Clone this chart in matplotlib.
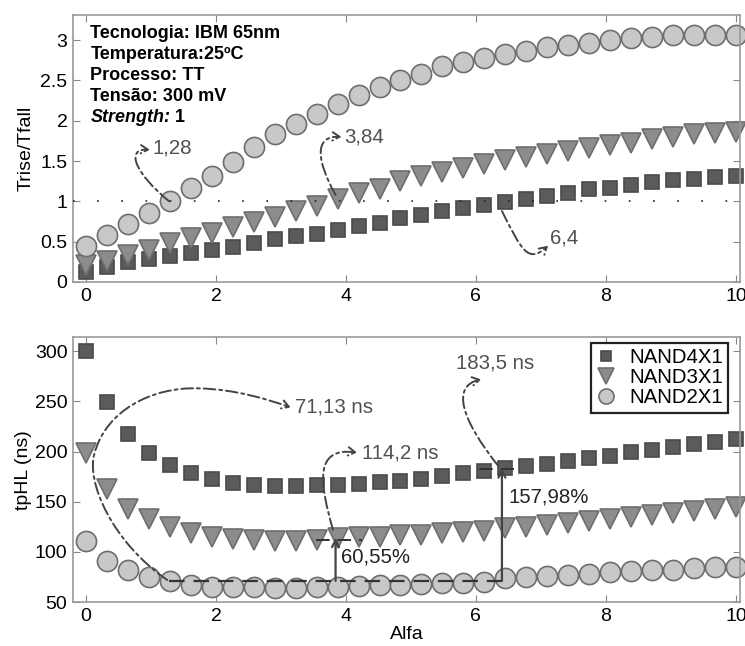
import numpy as np
import matplotlib
matplotlib.use("Agg")
import matplotlib.pyplot as plt
from matplotlib.path import Path
from matplotlib.patches import FancyArrowPatch

plt.rcParams["font.family"] = ["Liberation Sans", "DejaVu Sans"]

# alfa sweep: 32 points from 0 to 10
alfa = np.linspace(0, 10, 32)

# Trise/Tfall
ratio_nand4 = [0.13, 0.19, 0.25, 0.28, 0.32, 0.36, 0.40, 0.44, 0.48, 0.53, 0.57,
               0.60, 0.65, 0.69, 0.73, 0.79, 0.83, 0.88, 0.92, 0.96, 0.99, 1.03,
               1.07, 1.10, 1.15, 1.17, 1.20, 1.24, 1.26, 1.28, 1.30, 1.32]
ratio_nand3 = [0.21, 0.26, 0.34, 0.40, 0.48, 0.55, 0.61, 0.68, 0.74, 0.81, 0.88,
               0.94, 1.03, 1.10, 1.15, 1.25, 1.31, 1.37, 1.41, 1.46, 1.51, 1.55,
               1.59, 1.63, 1.66, 1.70, 1.73, 1.77, 1.80, 1.83, 1.85, 1.86]
ratio_nand2 = [0.45, 0.58, 0.72, 0.86, 1.01, 1.17, 1.32, 1.49, 1.67, 1.83, 1.96,
               2.08, 2.21, 2.32, 2.42, 2.51, 2.58, 2.68, 2.73, 2.78, 2.83, 2.87,
               2.92, 2.94, 2.97, 3.00, 3.03, 3.04, 3.06, 3.06, 3.07, 3.07]

# tpHL (ns)
tphl_nand4 = [300, 249, 218, 199, 187, 179, 172.5, 169, 167, 166, 166, 167, 167,
              168, 169.5, 171, 173, 175.5, 179, 180.5, 183.5, 185.4, 188, 190.7,
              193.7, 196, 199.7, 202, 205, 208, 209.6, 213]
tphl_nand3 = [199, 163, 143, 133, 125, 118.5, 115, 112.6, 112, 111, 111, 112,
              114.2, 114.6, 115, 117, 117, 118.5, 119.5, 121, 123.5, 125, 127,
              129, 131, 133, 135, 137, 139, 141, 142.7, 144.4]
tphl_nand2 = [111, 91.4, 81.5, 75, 71.1, 67, 65.5, 65, 65, 64, 64, 64.6, 65.5,
              66, 67, 67, 68, 69, 69.5, 70.5, 73.8, 75, 76, 77, 78, 79.5, 80.5,
              81.5, 82, 84, 85, 85.4]

# annotated points
alfa_eq = [1.28, 3.84, 6.4]        # Trise/Tfall = 1
min_delay = 71.13
delay_nand3 = 114.2
delay_nand4 = 183.5
pct_nand3 = "60,55%"
pct_nand4 = "157,98%"

info_lines = ["Tecnologia: IBM 65nm", "Temperatura:25ºC", "Processo: TT",
              "Tensão: 300 mV"]

styles = {
    "NAND4X1": dict(marker="s", ms=10.5, mfc="#5b5b5b", mec="#4a4a4a"),
    "NAND3X1": dict(marker="v", ms=14.5, mfc="#8c8c8c", mec="#6e6e6e"),
    "NAND2X1": dict(marker="o", ms=14.5, mfc="#c8c8c8", mec="#6e6e6e"),
}

fig = plt.figure(figsize=(7.45, 6.46), dpi=100)
ax1 = fig.add_axes([0.098, 0.5635, 0.895, 0.413])
ax2 = fig.add_axes([0.098, 0.068, 0.895, 0.410])

for ax in (ax1, ax2):
    ax.tick_params(direction="in", top=True, right=True, length=5, width=0.8,
                   color="#888888", labelsize=14, pad=4)
    for sp in ax.spines.values():
        sp.set_color("#999999")
        sp.set_linewidth(1.2)
    ax.set_xlim(-0.2, 10.06)
    ax.set_xticks([0, 2, 4, 6, 8, 10])

# ---------- top panel ----------
for name, y in [("NAND4X1", ratio_nand4), ("NAND3X1", ratio_nand3),
                ("NAND2X1", ratio_nand2)]:
    ax1.plot(alfa, y, linestyle="none", mew=1.2, clip_on=False, label=name,
             **styles[name])
ax1.axhline(1.0, color="#222222", lw=1.2, linestyle=(0, (1, 13.5)), zorder=3)
ax1.set_ylim(0, 3.31)
ax1.set_yticks([0, 0.5, 1, 1.5, 2, 2.5, 3])
ax1.set_yticklabels(["0", "0.5", "1", "1.5", "2", "2.5", "3"])
ax1.set_ylabel("Trise/Tfall", fontsize=14, labelpad=4)

for i, line in enumerate(info_lines):
    ax1.text(0.026, 0.93 - i * 0.078, line, transform=ax1.transAxes,
             fontsize=13, fontweight="bold", va="center", ha="left")
t_str = ax1.text(0.026, 0.93 - 4 * 0.078, "Strength:", transform=ax1.transAxes,
                 fontsize=13, fontweight="bold", fontstyle="italic",
                 va="center", ha="left")
ax1.annotate(" 1", xy=(1, 0), xycoords=t_str, va="bottom", ha="left",
             fontsize=13, fontweight="bold")


def curve(ax, verts, lw=1.4, color="#444444"):
    codes = [Path.MOVETO] + [Path.CURVE4] * (len(verts) - 1)
    patch = FancyArrowPatch(path=Path(verts, codes), arrowstyle="->,head_length=5,head_width=3",
                            linestyle=(0, (6, 2, 1.5, 2)), lw=lw, color=color,
                            transform=ax.transData, zorder=5, clip_on=False)
    ax.add_patch(patch)


lbl = dict(fontsize=14.7, color="#505050", va="center", ha="left")
curve(ax1, [(alfa_eq[0], 1.0), (0.75, 1.35), (0.6, 1.66), (0.98, 1.64)])
ax1.text(1.02, 1.66, "1,28", **lbl)
curve(ax1, [(alfa_eq[1], 1.08), (3.55, 1.5), (3.5, 1.82), (3.93, 1.8)])
ax1.text(3.97, 1.80, "3,84", **lbl)
curve(ax1, [(alfa_eq[2], 0.88), (6.7, 0.4), (6.8, 0.22), (7.11, 0.45)])
ax1.text(7.14, 0.55, "6,4", **lbl)

# ---------- bottom panel ----------
for name, y in [("NAND4X1", tphl_nand4), ("NAND3X1", tphl_nand3),
                ("NAND2X1", tphl_nand2)]:
    ax2.plot(alfa, y, linestyle="none", mew=1.2, clip_on=False, label=name,
             **styles[name])
ax2.set_ylim(50, 314)
ax2.set_yticks([50, 100, 150, 200, 250, 300])
ax2.set_ylabel("tpHL (ns)", fontsize=14, labelpad=2)
ax2.set_xlabel("Alfa", fontsize=14, labelpad=1)

ax2.plot([alfa_eq[0], alfa_eq[2]], [min_delay, min_delay], color="#333333",
         lw=1.6, linestyle=(0, (7, 4)), zorder=4)
ax2.plot([alfa_eq[1] - 0.3, alfa_eq[1] + 0.4], [delay_nand3 - 2, delay_nand3 - 2],
         color="#333333", lw=1.4, linestyle=(0, (7, 4)), zorder=4)
ax2.plot([alfa_eq[2] - 0.35, alfa_eq[2] + 0.25], [delay_nand4 - 1, delay_nand4 - 1],
         color="#333333", lw=1.4, linestyle=(0, (7, 4)), zorder=4)
for xa, ya in [(alfa_eq[1], delay_nand3), (alfa_eq[2], delay_nand4)]:
    ax2.annotate("", xy=(xa, ya), xytext=(xa, min_delay),
                 arrowprops=dict(arrowstyle="->,head_length=0.5,head_width=0.25",
                                 lw=1.6, color="#444444", shrinkA=0, shrinkB=0),
                 zorder=6)
ax2.text(alfa_eq[1] + 0.09, 95, pct_nand3, fontsize=14.7, color="#222222",
         va="center", ha="left")
ax2.text(alfa_eq[2] + 0.1, 155, pct_nand4, fontsize=14.7, color="#222222",
         va="center", ha="left")

curve(ax2, [(alfa_eq[0] - 0.03, 72), (0.4, 110), (0.0, 170), (0.13, 198),
            (0.3, 240), (1.0, 265), (1.75, 263),
            (2.3, 262), (2.8, 252), (3.15, 244)])
ax2.text(3.22, 244, f"{min_delay:.2f} ns".replace(".", ","), **lbl)
curve(ax2, [(alfa_eq[1] - 0.04, 122), (3.6, 168), (3.5, 205), (4.17, 199)])
ax2.text(4.25, 199, f"{delay_nand3} ns".replace(".", ","), **lbl)
curve(ax2, [(alfa_eq[2] - 0.06, 186), (5.8, 230), (5.6, 265), (6.08, 272)])
ax2.text(6.29, 288, f"{delay_nand4} ns".replace(".", ","), fontsize=14.7,
         color="#505050", va="center", ha="center")

leg = ax2.legend(loc="upper right", bbox_to_anchor=(0.982, 0.977),
                 borderaxespad=0, fontsize=14.7, markerscale=0.75, fancybox=False,
                 handlelength=1.0, handletextpad=0.6, labelspacing=0.05,
                 borderpad=0.25, framealpha=1)
leg.get_frame().set_edgecolor("#222222")
leg.get_frame().set_linewidth(1.6)

fig.savefig("out.png", dpi=100)
